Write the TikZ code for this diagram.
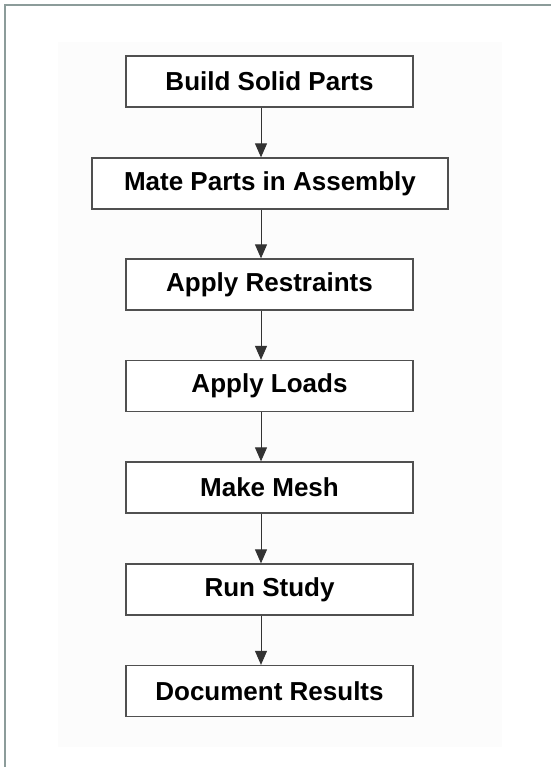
\documentclass[tikz,border=0pt]{standalone}
\usepackage{fontspec}
\setmainfont{Liberation Sans}
\usetikzlibrary{arrows.meta}
\definecolor{framec}{HTML}{8C9C9A}
\definecolor{boxc}{HTML}{505050}
\begin{document}
\begin{tikzpicture}[x=1pt,y=-1pt,
  stepbox/.style={draw=boxc,line width=1.3pt,fill=white,minimum height=51pt,inner sep=0pt,
    font=\fontsize{26}{30}\selectfont\bfseries,text=black},
  flow/.style={draw=black!80,line width=1pt,-{Triangle[length=14pt,width=12pt]}}]
\useasboundingbox (0,0) rectangle (551,767);
\fill[white] (0,0) rectangle (551,767);
\fill[black!1] (58,42) rectangle (502,747);
\draw[framec,line width=2pt] (5,767) -- (5,5) -- (551,5);
\node[stepbox,minimum width=287pt] (b1) at (269.5,81.5) {Build Solid Parts};
\node[stepbox,minimum width=356pt] (b2) at (270,183.5) {Mate Parts in Assembly};
\node[stepbox,minimum width=287pt] (b3) at (269.5,284.5) {Apply Restraints};
\node[stepbox,minimum width=287pt] (b4) at (269.5,386) {Apply Loads};
\node[stepbox,minimum width=287pt] (b5) at (269.5,487.5) {Make Mesh};
\node[stepbox,minimum width=287pt] (b6) at (269.5,589.5) {Run Study};
\node[stepbox,minimum width=287pt] (b7) at (269.5,691) {Document Results};
\coordinate (ax) at (261,0);
\draw[flow] (b1.south -| ax) -- (b2.north -| ax);
\draw[flow] (b2.south -| ax) -- (b3.north -| ax);
\draw[flow] (b3.south -| ax) -- (b4.north -| ax);
\draw[flow] (b4.south -| ax) -- (b5.north -| ax);
\draw[flow] (b5.south -| ax) -- (b6.north -| ax);
\draw[flow] (b6.south -| ax) -- (b7.north -| ax);
\end{tikzpicture}
\end{document}
